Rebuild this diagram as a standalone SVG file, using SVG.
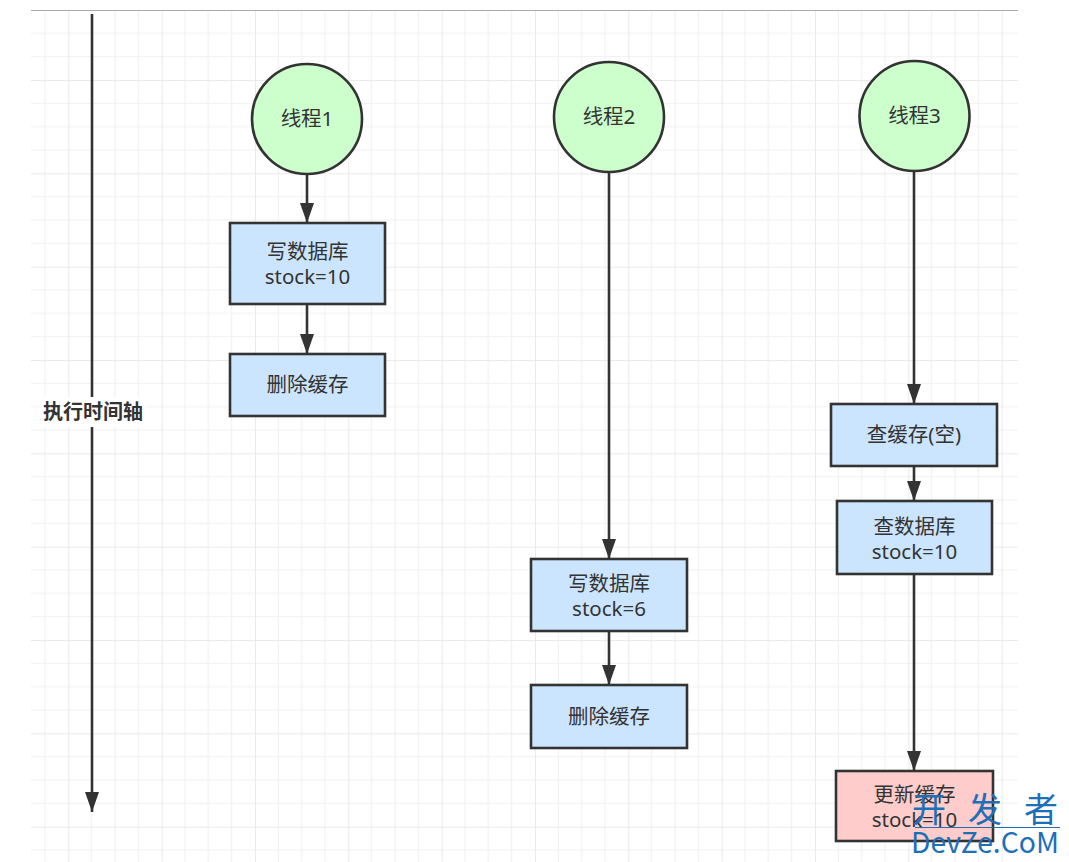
<svg xmlns="http://www.w3.org/2000/svg" width="1069" height="862" viewBox="0 0 1069 862">
<style>
.ln{stroke:#333;stroke-width:2.6;fill:none}
.nd{stroke:#333;stroke-width:2.6}
.c{fill:#CCFFCC}
.b{fill:#CCE5FF}
.p{fill:#FFCCCC}
.t{font-family:"Noto Sans","Noto Sans CJK SC",sans-serif;font-size:20.5px;fill:#333;text-anchor:middle}
.wm{font-family:"Noto Sans CJK SC","Liberation Sans",sans-serif;fill:#1D6FB8}
</style>
<defs>
<pattern id="grid" patternUnits="userSpaceOnUse" x="-25" y="-13.333" width="93.333" height="93.333">
<path d="M23.333 0V93.333M46.667 0V93.333M70 0V93.333M0 23.333H93.333M0 46.667H93.333M0 70H93.333" stroke="#f1f1f1" stroke-width="1.2" fill="none"/>
<path d="M0 0V93.333M0 0H93.333" stroke="#e4e4e4" stroke-width="1.5" fill="none"/>
</pattern>
<marker id="ah" markerUnits="userSpaceOnUse" markerWidth="20" markerHeight="14" refX="20" refY="7" orient="auto" viewBox="0 0 20 14">
<path d="M0 0L20 7L0 14Z" fill="#333"/>
</marker>
</defs>
<rect width="1069" height="862" fill="#fff"/>
<rect x="31" y="10" width="987" height="852" fill="url(#grid)"/>
<line x1="31" y1="10.5" x2="1018" y2="10.5" stroke="#aaa" stroke-width="1"/>
<g id="axis">
<line x1="92" y1="14" x2="92" y2="812" stroke="#333" stroke-width="2.6" marker-end="url(#ah)"/>
<rect x="41" y="397" width="104" height="30" fill="#fff"/>
<text x="93" y="419" font-family="Noto Sans CJK SC,sans-serif" font-size="20" font-weight="bold" fill="#333" text-anchor="middle">执行时间轴</text>
</g>
<g id="connectors">
<line class="ln" x1="307" y1="174" x2="307" y2="223" marker-end="url(#ah)"/>
<line class="ln" x1="307" y1="304" x2="307" y2="354" marker-end="url(#ah)"/>
<line class="ln" x1="609" y1="172" x2="609" y2="559" marker-end="url(#ah)"/>
<line class="ln" x1="609" y1="631" x2="609" y2="685" marker-end="url(#ah)"/>
<line class="ln" x1="914" y1="172" x2="914" y2="404" marker-end="url(#ah)"/>
<line class="ln" x1="914" y1="466" x2="914" y2="501" marker-end="url(#ah)"/>
<line class="ln" x1="914" y1="574" x2="914" y2="771" marker-end="url(#ah)"/>
</g>
<g id="thread1">
<circle class="nd c" cx="307" cy="119" r="55"/>
<text class="t" x="307" y="126">线程1</text>
</g>
<g id="thread2">
<circle class="nd c" cx="609" cy="117" r="55"/>
<text class="t" x="609" y="124">线程2</text>
</g>
<g id="thread3">
<circle class="nd c" cx="914.5" cy="116" r="55"/>
<text class="t" x="914.5" y="123">线程3</text>
</g>
<g id="t1write">
<rect class="nd b" x="230" y="223" width="155" height="81"/>
<text class="t" x="307.5" y="259">写数据库</text>
<text class="t" x="307.5" y="284">stock=10</text>
</g>
<g id="t1del">
<rect class="nd b" x="230" y="354" width="155" height="62"/>
<text class="t" x="307.5" y="392">删除缓存</text>
</g>
<g id="t2write">
<rect class="nd b" x="531" y="559" width="156" height="72"/>
<text class="t" x="609" y="591">写数据库</text>
<text class="t" x="609" y="616">stock=6</text>
</g>
<g id="t2del">
<rect class="nd b" x="531" y="685" width="156" height="63"/>
<text class="t" x="609" y="724">删除缓存</text>
</g>
<g id="t3query">
<rect class="nd b" x="831" y="404" width="166" height="62"/>
<text class="t" x="914" y="442">查缓存(空)</text>
</g>
<g id="t3db">
<rect class="nd b" x="837" y="501" width="155" height="73"/>
<text class="t" x="914.5" y="534">查数据库</text>
<text class="t" x="914.5" y="559">stock=10</text>
</g>
<g id="t3update">
<rect class="nd p" x="836" y="771" width="157" height="70"/>
<text class="t" x="914.5" y="802">更新缓存</text>
<text class="t" x="914.5" y="827">stock=10</text>
</g>
<g id="watermark">
<text class="wm" x="912" y="822" font-size="34" textLength="146" lengthAdjust="spacing">开 发 者</text>
<line x1="915" y1="827.5" x2="1060" y2="827.5" stroke="#1D6FB8" stroke-width="1"/>
<text class="wm" x="911" y="853" font-size="29" textLength="148" lengthAdjust="spacingAndGlyphs">DevZe.CoM</text>
</g>
</svg>
